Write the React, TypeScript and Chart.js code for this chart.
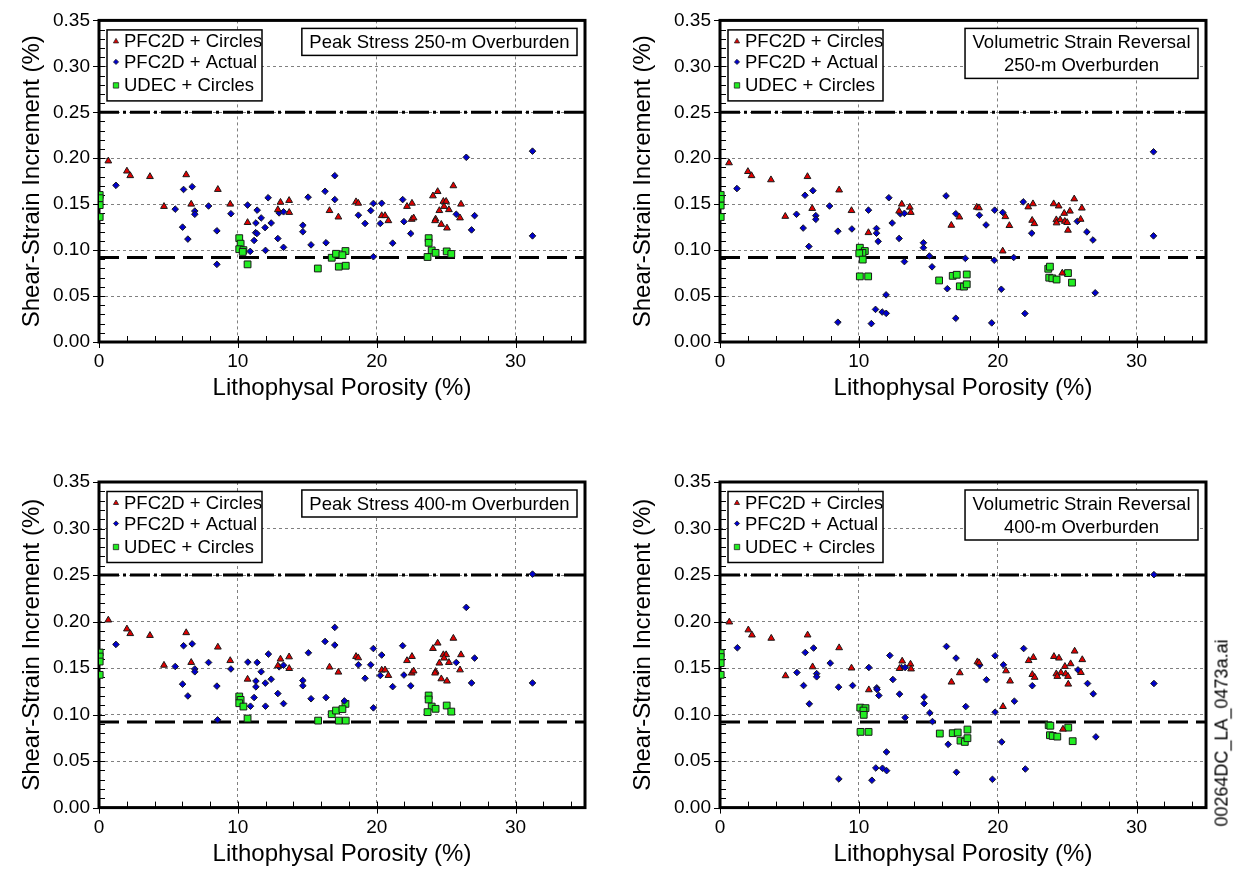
import React, { useEffect, useRef } from 'react';
import { Chart, registerables } from 'chart.js';

Chart.register(...registerables);

const FONT = '"Liberation Sans", Arial, Helvetica, sans-serif';

// ---- axes / labels ----
const X_TICKS = [0, 10, 20, 30];
const Y_TICKS = [0, 0.05, 0.1, 0.15, 0.2, 0.25, 0.3, 0.35];
const X_MIN = 0;
const X_MAX = 35;
const Y_MIN = 0;
const Y_MAX = 0.35;
const X_MINOR_STEP = 2;
const Y_MINOR_STEP = 0.01;
const UPPER_LIMIT = 0.25;
const LOWER_LIMIT = 0.092;
const SERIES_LABELS = ['PFC2D + Circles', 'PFC2D + Actual', 'UDEC + Circles'];
const X_TITLE = 'Lithophysal Porosity (%)';
const Y_TITLE = 'Shear-Strain Increment (%)';
const FILE_TAG = '00264DC_LA_0473a.ai';

// ---- Peak Stress 250-m Overburden ----
const PEAK250_PFC_CIRCLES: [number, number][] = [
  [0.67, 0.197], [2.01, 0.186], [2.25, 0.181], [3.67, 0.18], [6.28, 0.182], [4.68, 0.1475], [6.64, 0.15],
  [8.56, 0.166], [9.45, 0.15], [10.7, 0.13], [13.07, 0.152], [13.69, 0.154], [12.88, 0.144], [13.7, 0.141],
  [16.6, 0.143], [17.24, 0.136], [18.51, 0.1526], [18.67, 0.151], [20.36, 0.1375], [20.6, 0.1375], [20.84, 0.132],
  [22.18, 0.1475], [22.54, 0.151], [22.52, 0.1335], [22.66, 0.135], [24.05, 0.159], [24.39, 0.1637], [25.52, 0.17],
  [24.8, 0.153], [25.0, 0.153], [24.85, 0.1475], [24.51, 0.143], [25.2, 0.144], [26.07, 0.15], [26.0, 0.135],
  [24.24, 0.1338], [24.2, 0.132], [24.65, 0.128], [25.06, 0.124],
];
const PEAK250_PFC_ACTUAL: [number, number][] = [
  [1.22, 0.1705], [6.09, 0.166], [6.71, 0.169], [5.49, 0.1446], [6.9, 0.1425], [6.9, 0.139], [7.89, 0.148],
  [6.02, 0.125], [6.4, 0.112], [8.49, 0.121], [8.49, 0.0845], [9.5, 0.1396], [10.7, 0.149], [11.39, 0.1435],
  [11.68, 0.135], [11.3, 0.1295], [12.18, 0.157], [12.4, 0.1295], [11.96, 0.1245], [11.28, 0.119], [11.37, 0.118],
  [11.17, 0.1105], [10.89, 0.0986], [11.99, 0.0997], [12.88, 0.1126], [13.29, 0.103], [12.97, 0.1405], [13.29, 0.1417],
  [15.06, 0.1576], [14.68, 0.127], [14.68, 0.12], [15.27, 0.1057], [16.28, 0.164], [16.35, 0.108],
  [16.98, 0.181], [16.98, 0.155], [18.68, 0.138], [19.16, 0.129], [19.57, 0.143], [19.76, 0.1508], [20.36, 0.151],
  [20.26, 0.129], [19.76, 0.0928], [21.15, 0.1076], [21.87, 0.155], [21.96, 0.131], [22.45, 0.118], [25.73, 0.139],
  [27.05, 0.1375], [26.83, 0.122], [26.45, 0.201], [31.22, 0.2077], [31.22, 0.1155],
];
const PEAK250_UDEC_CIRCLES: [number, number][] = [
  [0.05, 0.16], [0.05, 0.1565], [0.05, 0.149], [0.05, 0.136], [10.1, 0.113], [10.2, 0.107], [10.1, 0.101],
  [10.4, 0.1], [10.35, 0.098], [10.7, 0.0845], [15.76, 0.08], [16.76, 0.0917], [17.07, 0.096], [17.75, 0.099],
  [17.53, 0.0945], [17.27, 0.082], [17.77, 0.083], [23.74, 0.113], [23.74, 0.108], [23.96, 0.0997], [24.24, 0.097],
  [23.66, 0.0925], [25.04, 0.0986], [25.37, 0.0958],
];

// ---- Volumetric Strain Reversal 250-m Overburden ----
const VSR250_PFC_CIRCLES: [number, number][] = [
  [0.65, 0.195], [2.01, 0.1855], [2.27, 0.181], [3.67, 0.1765], [6.3, 0.18], [8.58, 0.1654], [4.7, 0.1367],
  [6.64, 0.1453], [9.47, 0.143], [10.69, 0.119], [13.09, 0.15], [13.67, 0.1467], [12.9, 0.1424], [13.74, 0.141],
  [16.66, 0.127], [17.24, 0.136], [18.49, 0.1467], [18.65, 0.146], [20.55, 0.1364], [20.84, 0.1267], [20.36, 0.099],
  [22.2, 0.147], [22.54, 0.1504], [22.48, 0.1324], [22.64, 0.1288], [24.03, 0.1504], [24.39, 0.148], [25.51, 0.1557],
  [26.06, 0.1457], [24.79, 0.14], [25.2, 0.1424], [24.22, 0.133], [24.5, 0.133], [24.83, 0.1313], [25.0, 0.13],
  [24.24, 0.1296], [25.97, 0.1335], [25.06, 0.1216], [24.65, 0.075],
];
const VSR250_PFC_ACTUAL: [number, number][] = [
  [1.22, 0.167], [6.12, 0.1597], [6.69, 0.1647], [5.51, 0.139], [6.9, 0.1375], [6.9, 0.1335], [7.89, 0.148],
  [5.99, 0.124], [6.4, 0.104], [8.49, 0.1206], [8.49, 0.0215], [9.5, 0.123], [10.69, 0.1435], [12.16, 0.157],
  [12.4, 0.1295], [11.27, 0.1235], [11.27, 0.1184], [11.39, 0.1095], [12.9, 0.1127], [12.99, 0.1396], [13.28, 0.14],
  [14.65, 0.108], [14.65, 0.1026], [15.08, 0.0936], [13.28, 0.0875], [15.27, 0.0818], [16.37, 0.058], [16.28, 0.159],
  [11.96, 0.0513], [11.2, 0.0355], [11.68, 0.0326], [11.97, 0.0312], [10.9, 0.02],
  [16.98, 0.1396], [18.68, 0.138], [19.16, 0.1274], [19.78, 0.1435], [20.36, 0.141], [21.84, 0.1525], [22.45, 0.1184],
  [25.73, 0.1313], [26.42, 0.1198], [26.86, 0.111], [31.22, 0.207], [31.22, 0.1155], [17.67, 0.091], [19.75, 0.089],
  [21.15, 0.092], [20.26, 0.0574], [27.02, 0.0535], [16.98, 0.0258], [19.57, 0.0208], [21.96, 0.031],
];
const VSR250_UDEC_CIRCLES: [number, number][] = [
  [0.05, 0.16], [0.05, 0.1557], [0.05, 0.1485], [0.05, 0.136], [10.07, 0.1026], [10.43, 0.099], [10.26, 0.097],
  [10.03, 0.0965], [10.28, 0.0897], [10.07, 0.0714], [10.67, 0.0714], [15.78, 0.067], [16.76, 0.072], [17.05, 0.0732],
  [17.77, 0.0735], [17.27, 0.0606], [17.57, 0.0603], [17.77, 0.0628], [23.64, 0.0797], [23.76, 0.082], [23.71, 0.07],
  [23.93, 0.0693], [24.24, 0.068], [25.06, 0.075], [25.35, 0.0646],
];

// ---- Peak Stress 400-m Overburden ----
const PEAK400_PFC_CIRCLES: [number, number][] = [
  [0.67, 0.2016], [2.01, 0.192], [2.25, 0.187], [3.67, 0.185], [6.28, 0.188], [8.56, 0.1725], [4.68, 0.153],
  [6.64, 0.156], [9.45, 0.158], [10.7, 0.138], [13.07, 0.1596], [13.69, 0.162], [12.88, 0.1524], [13.7, 0.1495],
  [16.6, 0.151], [17.24, 0.1456], [18.51, 0.1624], [18.67, 0.161], [20.36, 0.1478], [20.6, 0.148], [20.84, 0.142],
  [22.18, 0.158], [22.54, 0.1624], [22.52, 0.1446], [22.66, 0.1468], [24.05, 0.171], [24.39, 0.1768], [25.52, 0.182],
  [24.8, 0.1643], [25.0, 0.1643], [24.85, 0.1607], [24.51, 0.1553], [25.2, 0.156], [26.07, 0.1643], [26.0, 0.148],
  [24.24, 0.1463], [24.2, 0.1446], [24.65, 0.1384], [25.06, 0.136],
];
const PEAK400_PFC_ACTUAL: [number, number][] = [
  [1.22, 0.1754], [6.09, 0.174], [6.71, 0.176], [5.49, 0.1517], [6.9, 0.149], [6.9, 0.146], [7.89, 0.156],
  [6.02, 0.1327], [6.4, 0.12], [8.49, 0.1306], [8.54, 0.0943], [9.5, 0.149], [10.72, 0.1564], [11.39, 0.156],
  [11.68, 0.146], [11.3, 0.136], [12.2, 0.165], [12.4, 0.138], [11.98, 0.1338], [11.3, 0.1298], [11.17, 0.1183],
  [10.91, 0.109], [11.99, 0.109], [12.88, 0.1226], [13.29, 0.1118], [12.97, 0.1513], [13.29, 0.153], [15.08, 0.1664],
  [14.68, 0.1366], [14.68, 0.131], [15.27, 0.117], [16.28, 0.1786], [16.35, 0.1183],
  [16.98, 0.1937], [16.98, 0.1747], [18.68, 0.1535], [19.16, 0.139], [19.57, 0.1535], [19.76, 0.171], [20.36, 0.164],
  [20.26, 0.142], [19.76, 0.1072], [21.15, 0.13], [21.87, 0.174], [21.96, 0.1425], [22.45, 0.1309], [25.73, 0.156],
  [27.05, 0.1607], [26.83, 0.134], [26.45, 0.2152], [31.22, 0.251], [31.22, 0.134], [17.67, 0.1147],
];
const PEAK400_UDEC_CIRCLES: [number, number][] = [
  [0.05, 0.1667], [0.05, 0.1624], [0.05, 0.157], [0.05, 0.1427], [10.1, 0.1194], [10.2, 0.1158], [10.1, 0.1122],
  [10.4, 0.1086], [10.7, 0.0957], [15.78, 0.0935], [16.76, 0.1004], [17.07, 0.1043], [17.75, 0.1115], [17.53, 0.1058],
  [17.27, 0.0935], [17.77, 0.0935], [23.74, 0.1205], [23.74, 0.1162], [23.96, 0.1086], [24.24, 0.1062], [23.66, 0.1026],
  [25.04, 0.1097], [25.37, 0.1032],
];

// ---- Volumetric Strain Reversal 400-m Overburden ----
const VSR400_PFC_CIRCLES: [number, number][] = [
  [0.67, 0.1995], [2.04, 0.191], [2.3, 0.1855], [3.69, 0.182], [6.31, 0.1855], [8.58, 0.1718], [4.72, 0.1417],
  [6.67, 0.1513], [9.47, 0.15], [10.72, 0.1266], [13.12, 0.1575], [13.72, 0.1542], [12.93, 0.1495], [13.76, 0.149],
  [16.67, 0.1349], [17.27, 0.1449], [18.54, 0.1567], [18.66, 0.1556], [20.6, 0.147], [20.89, 0.136], [20.38, 0.1086],
  [22.23, 0.158], [22.57, 0.1614], [22.49, 0.143], [22.66, 0.14], [24.05, 0.1624], [24.41, 0.1607], [25.54, 0.1682],
  [26.09, 0.159], [24.84, 0.1517], [25.25, 0.1546], [24.22, 0.1438], [24.55, 0.145], [24.89, 0.1438], [25.06, 0.141],
  [24.29, 0.141], [25.99, 0.1452], [25.08, 0.1327], [24.7, 0.0843],
];
const VSR400_PFC_ACTUAL: [number, number][] = [
  [1.25, 0.1718], [6.14, 0.1667], [6.74, 0.1715], [5.54, 0.1452], [6.96, 0.144], [6.96, 0.1406], [7.94, 0.1553],
  [6.02, 0.1312], [6.43, 0.1115], [8.54, 0.1295], [8.56, 0.0308], [9.55, 0.1312], [10.72, 0.1506], [12.23, 0.1635],
  [12.45, 0.1377], [11.29, 0.1287], [11.31, 0.127], [11.44, 0.1205], [12.93, 0.122], [13.07, 0.1506], [13.33, 0.1506],
  [14.7, 0.119], [14.7, 0.1118], [15.11, 0.1018], [13.33, 0.0968], [15.3, 0.0925], [16.43, 0.068], [16.31, 0.1732],
  [11.99, 0.0598], [11.22, 0.0426], [11.7, 0.0423], [12.0, 0.0397], [10.94, 0.0294],
  [17.0, 0.1607], [18.71, 0.1532], [19.19, 0.1374], [19.81, 0.1632], [20.41, 0.1535], [21.87, 0.171], [22.49, 0.131],
  [25.78, 0.148], [26.47, 0.1334], [26.88, 0.1223], [31.25, 0.2504], [31.25, 0.1334], [17.7, 0.1086], [19.81, 0.1026],
  [21.2, 0.1144], [20.29, 0.0706], [27.07, 0.076], [17.03, 0.038], [19.62, 0.0304], [21.99, 0.0415],
];
const VSR400_UDEC_CIRCLES: [number, number][] = [
  [0.05, 0.166], [0.05, 0.1618], [0.05, 0.1553], [0.05, 0.1427], [10.1, 0.1075], [10.48, 0.1069], [10.33, 0.1043],
  [10.35, 0.0997], [10.12, 0.0814], [10.7, 0.0814], [15.83, 0.0796], [16.76, 0.08], [17.12, 0.0807], [17.82, 0.0839],
  [17.32, 0.072], [17.63, 0.0706], [17.82, 0.0746], [23.67, 0.0886], [23.79, 0.088], [23.76, 0.0778], [23.96, 0.077],
  [24.29, 0.0763], [25.08, 0.086], [25.4, 0.0714],
];

const SERIES_STYLE = [
  { pointStyle: 'triangle', color: '#e00000', radius: 3.9, legendRadius: 3.0 },
  { pointStyle: 'rectRot', color: '#0000cc', radius: 3.3, legendRadius: 2.6 },
  { pointStyle: 'rect', color: '#22ee22', radius: 4.8, legendRadius: 3.8 },
];

type PanelCfg = {
  left: number;
  top: number;
  width: number;
  height: number;
  yAxisWidth: number;
  padTop: number;
  padRight: number;
  xAxisHeight: number;
  yTitlePad: number;
  xTitlePad: number;
  title: string[];
  series: [number, number][][];
};

function drawMarker(ctx: CanvasRenderingContext2D, style: string, x: number, y: number, r: number) {
  ctx.beginPath();
  if (style === 'triangle') {
    ctx.moveTo(x, y - r);
    ctx.lineTo(x + r * 0.866, y + r * 0.5);
    ctx.lineTo(x - r * 0.866, y + r * 0.5);
  } else if (style === 'rectRot') {
    ctx.moveTo(x - r, y);
    ctx.lineTo(x, y - r);
    ctx.lineTo(x + r, y);
    ctx.lineTo(x, y + r);
  } else {
    const s = r * Math.SQRT1_2;
    ctx.rect(x - s, y - s, 2 * s, 2 * s);
  }
  ctx.closePath();
  ctx.fill();
  ctx.stroke();
}

function makeDecor(title: string[]) {
  return {
    id: 'decor',
    beforeDatasetsDraw(chart: any) {
      const { ctx, chartArea: a, scales } = chart;
      const xs = scales.x;
      const ys = scales.y;
      ctx.save();
      ctx.strokeStyle = '#000';
      ctx.lineWidth = 1;
      ctx.setLineDash([]);
      ctx.beginPath();
      for (let v = X_MIN + X_MINOR_STEP; v < X_MAX; v += X_MINOR_STEP) {
        const px = Math.round(xs.getPixelForValue(v)) + 0.5;
        ctx.moveTo(px, a.bottom);
        ctx.lineTo(px, a.bottom - 6);
      }
      const nMinor = Math.round((Y_MAX - Y_MIN) / Y_MINOR_STEP);
      for (let i = 1; i < nMinor; i++) {
        const py = Math.round(ys.getPixelForValue(Y_MIN + i * Y_MINOR_STEP)) + 0.5;
        ctx.moveTo(a.left, py);
        ctx.lineTo(a.left + 6, py);
      }
      X_TICKS.forEach((v) => {
        const px = Math.round(xs.getPixelForValue(v)) + 0.5;
        ctx.moveTo(px, a.bottom);
        ctx.lineTo(px, a.bottom + 6);
      });
      Y_TICKS.forEach((v) => {
        const py = Math.round(ys.getPixelForValue(v)) + 0.5;
        ctx.moveTo(a.left - 6, py);
        ctx.lineTo(a.left, py);
      });
      ctx.stroke();
      ctx.lineWidth = 3;
      ctx.strokeRect(a.left, a.top, a.right - a.left, a.bottom - a.top);
      ctx.restore();
    },
    afterDatasetsDraw(chart: any) {
      const { ctx, chartArea: a } = chart;
      ctx.save();
      ctx.setLineDash([]);
      // legend box
      const lx = a.left + 8;
      const ly = a.top + 9.5;
      const lw = 155;
      const lh = 71;
      ctx.fillStyle = '#fff';
      ctx.fillRect(lx, ly, lw, lh);
      ctx.strokeStyle = '#000';
      ctx.lineWidth = 1.5;
      ctx.strokeRect(lx, ly, lw, lh);
      const rowY = [11.5, 32, 55.5];
      ctx.font = `18.5px ${FONT}`;
      ctx.textBaseline = 'middle';
      ctx.textAlign = 'left';
      SERIES_LABELS.forEach((label, i) => {
        const st = SERIES_STYLE[i];
        ctx.fillStyle = st.color;
        ctx.strokeStyle = '#222';
        ctx.lineWidth = 0.8;
        drawMarker(ctx, st.pointStyle, lx + 9, ly + rowY[i], st.legendRadius);
        ctx.fillStyle = '#000';
        ctx.fillText(label, lx + 17, ly + rowY[i] + 1);
      });
      // title box
      ctx.font = `18.5px ${FONT}`;
      const tw = Math.max(...title.map((t) => ctx.measureText(t).width));
      const bw = tw + 15;
      const lineH = 23;
      const bh = lineH * title.length + 4;
      const bx = a.right - 8 - bw;
      const by = a.top + 8;
      ctx.fillStyle = '#fff';
      ctx.fillRect(bx, by, bw, bh);
      ctx.strokeStyle = '#000';
      ctx.lineWidth = 1.5;
      ctx.strokeRect(bx, by, bw, bh);
      ctx.fillStyle = '#000';
      ctx.textAlign = 'center';
      title.forEach((t, i) => {
        const cy = by + bh / 2 + (i - (title.length - 1) / 2) * lineH + 1;
        ctx.fillText(t, bx + bw / 2, cy);
      });
      ctx.restore();
    },
  };
}

function Panel({ cfg }: { cfg: PanelCfg }) {
  const ref = useRef<HTMLCanvasElement | null>(null);
  useEffect(() => {
    if (!ref.current) return;
    const datasets: any[] = cfg.series.map((pts, i) => ({
      type: 'scatter',
      label: SERIES_LABELS[i],
      data: pts.map(([x, y]) => ({ x, y })),
      pointStyle: SERIES_STYLE[i].pointStyle,
      pointRadius: SERIES_STYLE[i].radius,
      pointBackgroundColor: SERIES_STYLE[i].color,
      pointBorderColor: '#1a1a1a',
      pointBorderWidth: 1,
      order: 0,
    }));
    datasets.push({
      type: 'line',
      label: 'upper',
      data: [{ x: X_MIN, y: UPPER_LIMIT }, { x: X_MAX, y: UPPER_LIMIT }],
      borderColor: '#000',
      borderWidth: 3,
      borderDash: [20, 4, 3, 4],
      pointRadius: 0,
      order: 5,
    });
    datasets.push({
      type: 'line',
      label: 'lower',
      data: [{ x: X_MIN, y: LOWER_LIMIT }, { x: X_MAX, y: LOWER_LIMIT }],
      borderColor: '#000',
      borderWidth: 3,
      borderDash: [20, 8],
      pointRadius: 0,
      order: 5,
    });
    const chart = new Chart(ref.current, {
      type: 'scatter',
      data: { datasets },
      plugins: [makeDecor(cfg.title)],
      options: {
        animation: false,
        responsive: false,
        devicePixelRatio: 1,
        layout: { padding: { left: 0, top: cfg.padTop, right: cfg.padRight, bottom: 0 } },
        plugins: { legend: { display: false }, tooltip: { enabled: false }, title: { display: false } },
        scales: {
          x: {
            type: 'linear',
            min: X_MIN,
            max: X_MAX,
            afterBuildTicks: (s: any) => {
              s.ticks = X_TICKS.map((v) => ({ value: v }));
            },
            afterFit: (s: any) => {
              s.height = cfg.xAxisHeight;
            },
            grid: { color: '#808080', lineWidth: 1, drawTicks: false },
            border: { display: false, dash: [3, 3] },
            ticks: {
              font: { family: FONT, size: 19 },
              color: '#000',
              padding: 8.6,
              maxRotation: 0,
              autoSkip: false,
              callback: (v: any) => String(v),
            },
            title: {
              display: true,
              text: X_TITLE,
              font: { family: FONT, size: 24 },
              color: '#000',
              padding: { top: 0, bottom: cfg.xTitlePad },
            },
          },
          y: {
            type: 'linear',
            min: Y_MIN,
            max: Y_MAX,
            afterBuildTicks: (s: any) => {
              s.ticks = Y_TICKS.map((v) => ({ value: v }));
            },
            afterFit: (s: any) => {
              s.width = cfg.yAxisWidth;
            },
            grid: { color: '#808080', lineWidth: 1, drawTicks: false },
            border: { display: false, dash: [3, 3] },
            ticks: {
              font: { family: FONT, size: 19 },
              color: '#000',
              padding: 9,
              autoSkip: false,
              callback: (v: any) => Number(v).toFixed(2),
            },
            title: {
              display: true,
              text: Y_TITLE,
              font: { family: FONT, size: 24 },
              color: '#000',
              padding: { top: cfg.yTitlePad, bottom: 0 },
            },
          },
        },
      } as any,
    });
    return () => chart.destroy();
  }, [cfg]);
  return (
    <canvas
      ref={ref}
      width={cfg.width}
      height={cfg.height}
      style={{ position: 'absolute', left: cfg.left, top: cfg.top, width: cfg.width, height: cfg.height }}
    />
  );
}

const PANELS: PanelCfg[] = [
  {
    left: 0, top: 0, width: 600, height: 420, yAxisWidth: 99, padTop: 17.5, padRight: 15, xAxisHeight: 78,
    yTitlePad: 17.6, xTitlePad: 17.6, title: ['Peak Stress 250-m Overburden'],
    series: [PEAK250_PFC_CIRCLES, PEAK250_PFC_ACTUAL, PEAK250_UDEC_CIRCLES],
  },
  {
    left: 610, top: 0, width: 625, height: 420, yAxisWidth: 110, padTop: 17.5, padRight: 29, xAxisHeight: 78,
    yTitlePad: 18.6, xTitlePad: 17.6, title: ['Volumetric Strain Reversal', '250-m Overburden'],
    series: [VSR250_PFC_CIRCLES, VSR250_PFC_ACTUAL, VSR250_UDEC_CIRCLES],
  },
  {
    left: 0, top: 440, width: 600, height: 429, yAxisWidth: 99, padTop: 42, padRight: 15, xAxisHeight: 61.4,
    yTitlePad: 17.6, xTitlePad: 0.6, title: ['Peak Stress 400-m Overburden'],
    series: [PEAK400_PFC_CIRCLES, PEAK400_PFC_ACTUAL, PEAK400_UDEC_CIRCLES],
  },
  {
    left: 610, top: 440, width: 625, height: 429, yAxisWidth: 110, padTop: 42, padRight: 29, xAxisHeight: 61.4,
    yTitlePad: 18.6, xTitlePad: 0.6, title: ['Volumetric Strain Reversal', '400-m Overburden'],
    series: [VSR400_PFC_CIRCLES, VSR400_PFC_ACTUAL, VSR400_UDEC_CIRCLES],
  },
];

export default function App() {
  return (
    <div style={{ position: 'absolute', left: 0, top: 0, width: 1235, height: 869, background: '#fff', overflow: 'hidden' }}>
      {PANELS.map((p, i) => (
        <Panel key={i} cfg={p} />
      ))}
      <div
        style={{
          position: 'absolute',
          left: 1222,
          top: 733,
          transform: 'translate(-50%, -50%) rotate(-90deg)',
          whiteSpace: 'nowrap',
          fontFamily: FONT,
          fontSize: 18,
          color: '#000',
        }}
      >
        {FILE_TAG}
      </div>
    </div>
  );
}
